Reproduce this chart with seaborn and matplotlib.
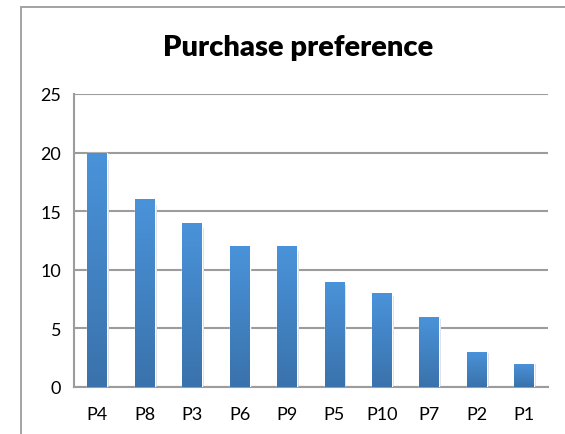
import numpy as np
import matplotlib
matplotlib.use("Agg")
import matplotlib.pyplot as plt
from matplotlib.patches import Rectangle
from matplotlib.colors import LinearSegmentedColormap
import seaborn as sns

products = ["P4", "P8", "P3", "P6", "P9", "P5", "P10", "P7", "P2", "P1"]
counts = [20, 16, 14, 12, 12, 9, 8, 6, 3, 2]
y_ticks = [0, 5, 10, 15, 20, 25]

sns.set_style("white")
plt.rcParams["font.family"] = ["Lato", "DejaVu Sans"]
plt.rcParams["text.color"] = "black"
plt.rcParams["xtick.color"] = "black"
plt.rcParams["ytick.color"] = "black"

W, H = 565, 435
fig = plt.figure(figsize=(W / 100, H / 100), dpi=100)
ax = fig.add_axes([73.5 / W, 1 - 388 / H, (548 - 73.5) / W, (388 - 95) / H])

sns.barplot(x=products, y=counts, color="#4a8fd6", width=0.42, ax=ax, zorder=3)

# vertical gradient on each bar, like the spreadsheet style
cmap = LinearSegmentedColormap.from_list("bar", ["#3a72ab", "#4a93da"])
grad = np.linspace(0, 1, 256).reshape(-1, 1)
for p in ax.patches:
    x0, y0 = p.get_x(), p.get_y()
    w, h = p.get_width(), p.get_height()
    im = ax.imshow(grad, cmap=cmap, aspect="auto", origin="lower",
                   extent=[x0, x0 + w, y0, y0 + h], zorder=4)
    im.set_clip_path(p)
    # light drop shadow
    ax.add_patch(Rectangle((x0 + w, y0), 0.04, h * 0.97, color="#dcdcdc",
                           zorder=2, lw=0))

ax.set_xlim(-0.5, len(products) - 0.5)
ax.set_ylim(0, 25)
ax.set_yticks(y_ticks)
ax.set_yticklabels([str(v) for v in y_ticks])
ax.yaxis.grid(True, color="#9c9c9c", lw=1.5)
ax.set_axisbelow(True)

for s in ["top", "right"]:
    ax.spines[s].set_visible(False)
for s in ["left", "bottom"]:
    ax.spines[s].set_color("#9c9c9c")
    ax.spines[s].set_linewidth(1.5)

ax.set_xticks(np.arange(len(products)))
ax.set_xticklabels(products)
ax.set_xticks(np.arange(len(products) + 1) - 0.5, minor=True)
ax.tick_params(axis="x", which="major", length=0, pad=14, labelsize=13)
ax.tick_params(axis="x", which="minor", length=5, width=1.5, color="#9c9c9c",
               direction="out")
ax.tick_params(axis="y", length=5, width=1.5, color="#9c9c9c", direction="out",
               pad=4, labelsize=13)

fig.text(298 / W, 1 - 48 / H, "Purchase preference", ha="center", va="center",
         fontsize=21, fontweight="heavy", color="black")

# chart frame
fig.patches.append(Rectangle((21 / W, -0.1), 1.2, 1 - 8 / H + 0.1,
                             transform=fig.transFigure, fill=False,
                             edgecolor="#9c9c9c", lw=1.3))

fig.savefig("out.png", dpi=100)
